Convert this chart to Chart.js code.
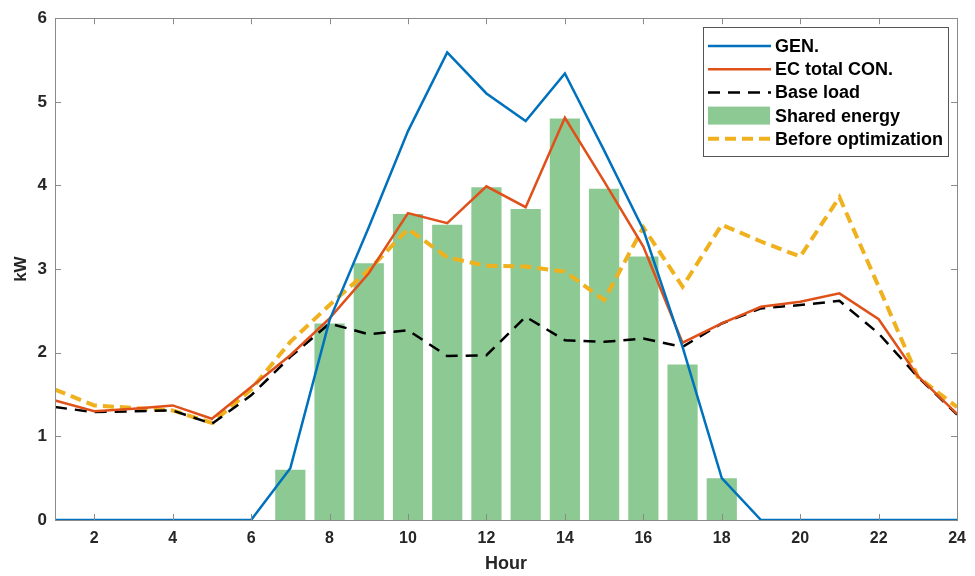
<!DOCTYPE html>
<html>
<head>
<meta charset="utf-8">
<title>Energy community profile</title>
<script src="https://cdn.jsdelivr.net/npm/chart.js@4.4.1/dist/chart.umd.min.js"></script>
<style>
  html, body { margin: 0; padding: 0; background: #ffffff; }
  #wrap { position: relative; width: 975px; height: 576px; }
</style>
</head>
<body>
<div id="wrap"><canvas id="energy-chart"></canvas></div>
<script>
// hourly profile (kW)
const hours = [1, 2, 3, 4, 5, 6, 7, 8, 9, 10, 11, 12, 13, 14, 15, 16, 17, 18, 19, 20, 21, 22, 23, 24];
const genValues = [0, 0, 0, 0, 0, 0, 0.62, 2.39, 3.5, 4.65, 5.59, 5.1, 4.77, 5.34, 4.42, 3.47, 2.07, 0.5, 0, 0, 0, 0, 0, 0];
const ecTotalValues = [1.43, 1.3, 1.33, 1.37, 1.21, 1.59, 1.97, 2.41, 2.95, 3.67, 3.55, 3.99, 3.74, 4.81, 4.05, 3.27, 2.12, 2.35, 2.55, 2.61, 2.71, 2.4, 1.72, 1.27];
const baseLoadValues = [1.35, 1.29, 1.3, 1.31, 1.15, 1.49, 1.95, 2.35, 2.22, 2.27, 1.96, 1.97, 2.43, 2.15, 2.13, 2.17, 2.07, 2.35, 2.53, 2.57, 2.62, 2.23, 1.71, 1.26];
const beforeOptValues = [1.56, 1.37, 1.34, 1.31, 1.16, 1.56, 2.13, 2.57, 2.99, 3.48, 3.14, 3.04, 3.03, 2.97, 2.63, 3.5, 2.79, 3.53, 3.33, 3.15, 3.86, 2.79, 1.71, 1.35];

const sharedHours = [7, 8, 9, 10, 11, 12, 13, 14, 15, 16, 17, 18];
const sharedValues = [0.6, 2.35, 3.07, 3.66, 3.53, 3.98, 3.72, 4.8, 3.96, 3.15, 1.86, 0.5];

const xTickValues = [2, 4, 6, 8, 10, 12, 14, 16, 18, 20, 22, 24];
const yTickValues = [0, 1, 2, 3, 4, 5, 6];

const FONT = '"Liberation Sans", Arial, Helvetica, sans-serif';
const TEXT = '#262626';
const FRAME = '#8a8a8a';

const toPoints = (xs, ys) => xs.map((x, i) => ({ x: x, y: ys[i] }));

// box around the axes, ticks pointing inwards, like a MATLAB figure
const axesFrame = {
  id: 'axesFrame',
  afterDatasetsDraw(chart) {
    const { ctx, chartArea: a, scales } = chart;
    const len = 6;
    ctx.save();
    ctx.strokeStyle = FRAME;
    ctx.lineWidth = 1;
    ctx.beginPath();
    xTickValues.forEach(v => {
      const px = Math.round(scales.x.getPixelForValue(v)) + 0.5;
      ctx.moveTo(px, a.bottom); ctx.lineTo(px, a.bottom - len);
      ctx.moveTo(px, a.top); ctx.lineTo(px, a.top + len);
    });
    yTickValues.forEach(v => {
      const py = Math.round(scales.y.getPixelForValue(v)) + 0.5;
      ctx.moveTo(a.left, py); ctx.lineTo(a.left + len, py);
      ctx.moveTo(a.right, py); ctx.lineTo(a.right - len, py);
    });
    ctx.stroke();
    ctx.strokeRect(Math.round(a.left) + 0.5, Math.round(a.top) + 0.5,
      Math.round(a.right - a.left), Math.round(a.bottom - a.top));
    ctx.restore();
  }
};

// legend box in the top right corner of the plot
const boxLegend = {
  id: 'boxLegend',
  afterDraw(chart) {
    const { ctx } = chart;
    const items = chart.data.datasets.slice().sort((a, b) => a.legendIndex - b.legendIndex);
    const x0 = 703, y0 = 27, w = 245, h = 129;
    const rowH = 23.2;
    ctx.save();
    ctx.fillStyle = '#ffffff';
    ctx.fillRect(x0, y0, w, h);
    ctx.strokeStyle = '#555555';
    ctx.lineWidth = 1;
    ctx.strokeRect(x0 + 0.5, y0 + 0.5, w, h);
    ctx.font = 'bold 18px ' + FONT;
    ctx.textBaseline = 'middle';
    items.forEach((ds, i) => {
      const cy = y0 + 19 + i * rowH;
      if (ds.type === 'bar') {
        ctx.fillStyle = ds.backgroundColor;
        ctx.fillRect(x0 + 5, cy - 9, 62, 18);
      } else {
        ctx.strokeStyle = ds.borderColor;
        ctx.lineWidth = ds.borderWidth;
        ctx.setLineDash(ds.borderDash || []);
        ctx.beginPath();
        ctx.moveTo(x0 + 5, cy);
        ctx.lineTo(x0 + 68, cy);
        ctx.stroke();
        ctx.setLineDash([]);
      }
      ctx.fillStyle = '#000000';
      ctx.fillText(ds.label, x0 + 72, cy + 1);
    });
    ctx.restore();
  }
};

const config = {
  data: {
    datasets: [
      {
        type: 'line',
        label: 'GEN.',
        legendIndex: 0,
        data: toPoints(hours, genValues),
        borderColor: '#0072BD',
        borderWidth: 2.5,
        pointRadius: 0,
        tension: 0,
        order: 1
      }, {
        type: 'line',
        label: 'EC total CON.',
        legendIndex: 1,
        data: toPoints(hours, ecTotalValues),
        borderColor: '#E0501A',
        borderWidth: 2.5,
        pointRadius: 0,
        tension: 0,
        order: 2
      }, {
        type: 'line',
        label: 'Base load',
        legendIndex: 2,
        data: toPoints(hours, baseLoadValues),
        borderColor: '#000000',
        borderWidth: 2.5,
        borderDash: [12, 8],
        pointRadius: 0,
        tension: 0,
        order: 3
      }, {
        type: 'bar',
        label: 'Shared energy',
        legendIndex: 3,
        data: toPoints(sharedHours, sharedValues),
        backgroundColor: 'rgb(141, 201, 147)',
        borderWidth: 0,
        categoryPercentage: 1,
        barPercentage: 0.77,
        order: 10
      }, {
        type: 'line',
        label: 'Before optimization',
        legendIndex: 4,
        data: toPoints(hours, beforeOptValues),
        borderColor: '#EFB11E',
        borderWidth: 4,
        borderDash: [11, 6],
        pointRadius: 0,
        tension: 0,
        order: 4
      }
    ]
  },
  options: {
    responsive: true,
    maintainAspectRatio: false,
    animation: false,
    layout: { padding: { left: 0, right: 15, top: 18, bottom: 0 } },
    plugins: {
      legend: { display: false },
      tooltip: { enabled: false }
    },
    scales: {
      x: {
        type: 'linear',
        min: 1,
        max: 24,
        offset: false,
        afterBuildTicks: scale => { scale.ticks = xTickValues.map(v => ({ value: v })); },
        afterFit: scale => { scale.height = 56; },
        grid: { display: false, drawTicks: false },
        border: { display: false },
        ticks: {
          padding: 9,
          maxRotation: 0,
          color: TEXT,
          font: { family: FONT, size: 16, weight: 'bold' }
        },
        title: {
          display: true,
          text: 'Hour',
          color: TEXT,
          padding: { top: 0, bottom: 1 },
          font: { family: FONT, size: 18, weight: 'bold' }
        }
      },
      y: {
        min: 0,
        max: 6,
        afterBuildTicks: scale => { scale.ticks = yTickValues.map(v => ({ value: v })); },
        afterFit: scale => { scale.width = 55; },
        grid: { display: false, drawTicks: false },
        border: { display: false },
        ticks: {
          padding: 8,
          color: TEXT,
          font: { family: FONT, size: 17, weight: 'bold' }
        },
        title: {
          display: true,
          text: 'kW',
          color: TEXT,
          padding: { top: 11, bottom: 0 },
          font: { family: FONT, size: 17, weight: 'bold' }
        }
      }
    }
  },
  plugins: [axesFrame, boxLegend]
};

const ctx = document.getElementById('energy-chart').getContext('2d');
window.energyChart = new Chart(ctx, config);
</script>
</body>
</html>
